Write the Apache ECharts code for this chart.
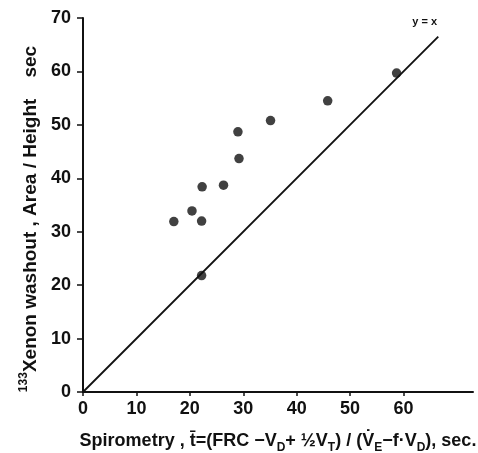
<!DOCTYPE html>
<html><head><meta charset="utf-8">
<script src="https://cdn.jsdelivr.net/npm/echarts@6/dist/echarts.min.js"></script>
<style>html,body{margin:0;padding:0;background:#fff}#c{width:478px;height:453px}</style>
</head><body><div id="c"></div>
<script>
// Data
const spirometry = [17.0, 20.4, 22.2, 22.3, 26.3, 29.0, 29.2, 35.1, 45.8, 58.7, 22.2];
const xenon      = [31.9, 33.9, 32.0, 38.4, 38.7, 48.7, 43.7, 50.8, 54.5, 59.7, 21.8];
const identityX = [0, 66.5];
const identityY = [0, 66.5];
const identityLabel = 'y = x';
const xTickLabels = [0, 10, 20, 30, 40, 50, 60];
const yTickLabels = [0, 10, 20, 30, 40, 50, 60, 70];

const FONT = "'Liberation Sans', 'DejaVu Sans', sans-serif";
const INK = '#111';

const chart = echarts.init(document.getElementById('c'), null, {renderer: 'canvas'});

const points = spirometry.map((x, i) => [x, xenon[i]]);
const lineData = identityX.map((x, i) => [x, identityY[i]]);

const m = {fontFamily: FONT, fontWeight: 'bold', fontSize: 18, color: INK, lineHeight: 26, verticalAlign: 'middle'};
const s = {fontFamily: FONT, fontWeight: 'bold', fontSize: 12, color: INK, lineHeight: 26, verticalAlign: 'bottom'};
const my = {fontFamily: FONT, fontWeight: 'bold', fontSize: 19, color: INK, lineHeight: 26, verticalAlign: 'middle'};
const sup = {fontFamily: FONT, fontWeight: 'bold', fontSize: 12, color: INK, lineHeight: 26, verticalAlign: 'top'};

chart.setOption({
  animation: false,
  backgroundColor: '#fff',
  grid: {left: 83, right: 5, top: 18, bottom: 61, containLabel: false, outerBoundsMode: 'none'},
  xAxis: {
    type: 'value', min: 0, max: 73, interval: 10,
    name: '{m|Spirometry , t\u0304=(FRC \u2212V}{s|D}{m|+ \u00BDV}{s|T}{m|) / (V\u0307}{s|E}{m|\u2212f\u00B7V}{s|D}{m|), sec.}',
    nameLocation: 'middle', nameGap: 36,
    nameTextStyle: {rich: {m, s}},
    axisLine: {lineStyle: {color: INK, width: 2}},
    axisTick: {show: true, length: 4, lineStyle: {color: INK, width: 1.5}, customValues: xTickLabels},
    axisLabel: {customValues: xTickLabels, margin: 8, fontFamily: FONT, fontWeight: 'bold', fontSize: 18, color: INK},
    splitLine: {show: false}
  },
  yAxis: {
    type: 'value', min: 0, max: 70, interval: 10,
    name: '{sup|133}{my|Xenon washout , Area / Height    sec}',
    nameLocation: 'middle', nameGap: 33, nameRotate: 90,
    nameTextStyle: {rich: {my, sup}, padding: [0, 28, 0, 0]},
    axisLine: {lineStyle: {color: INK, width: 2}},
    axisTick: {show: true, length: 6, lineStyle: {color: INK, width: 1.5}, customValues: yTickLabels},
    axisLabel: {customValues: yTickLabels, margin: 12, fontFamily: FONT, fontWeight: 'bold', fontSize: 18, color: INK},
    splitLine: {show: false}
  },
  series: [
    {type: 'line', data: lineData, symbol: 'none', lineStyle: {color: INK, width: 1.8}, silent: true,
     endLabel: {show: true, formatter: identityLabel, distance: 0, offset: [-26, -15],
       fontFamily: FONT, fontWeight: 'bold', fontSize: 11, color: INK}},
    {type: 'scatter', data: points, symbol: 'circle', symbolSize: 9.5, itemStyle: {color: INK}}
  ]
});
</script></body></html>
